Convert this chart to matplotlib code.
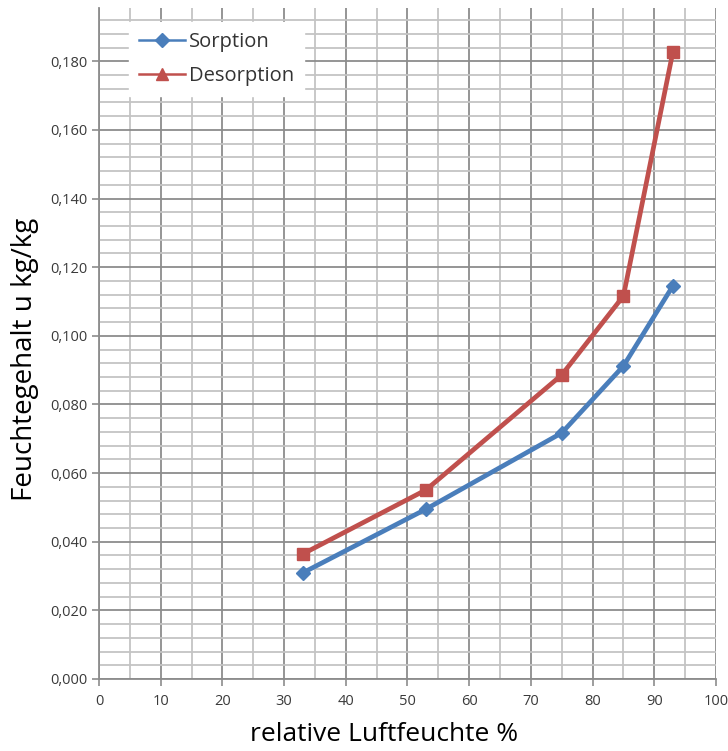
import matplotlib
matplotlib.use("Agg")
from matplotlib import pyplot as plt
from matplotlib.lines import Line2D
from matplotlib.ticker import MultipleLocator, FuncFormatter

# relative humidity (%) and moisture content (kg/kg)
humidity = [33, 53, 75, 85, 93]
sorption = [0.0309, 0.0495, 0.0717, 0.0912, 0.1145]
desorption = [0.0364, 0.0551, 0.0886, 0.1116, 0.1826]

BLUE = "#4a7ebb"
RED = "#c0504d"

plt.rcParams["font.family"] = ["Open Sans", "DejaVu Sans"]

fig = plt.figure(figsize=(7.28, 7.51), dpi=100)
ax = fig.add_axes([0.136, 0.0959, 0.8475, 0.8934])

ax.plot(humidity, sorption, color=BLUE, lw=3.4, marker="D", ms=7,
        markerfacecolor=BLUE, markeredgecolor=BLUE, zorder=3)
ax.plot(humidity, desorption, color=RED, lw=3.4, marker="s", ms=9,
        markerfacecolor=RED, markeredgecolor=RED, zorder=3)

ax.set_xlim(0, 100)
ax.set_ylim(0, 0.1955)
ax.xaxis.set_major_locator(MultipleLocator(10))
ax.xaxis.set_minor_locator(MultipleLocator(5))
ax.yaxis.set_major_locator(MultipleLocator(0.02))
ax.yaxis.set_minor_locator(MultipleLocator(0.004))
ax.yaxis.set_major_formatter(FuncFormatter(lambda v, p: f"{v:.3f}".replace(".", ",")))

ax.grid(which="major", color="#8c8c8c", lw=1.3)
ax.grid(which="minor", color="#c4c4c4", lw=1.3)
ax.set_axisbelow(True)

for side in ["top", "right"]:
    ax.spines[side].set_visible(False)
for side in ["left", "bottom"]:
    ax.spines[side].set_color("#8c8c8c")
    ax.spines[side].set_linewidth(1.3)

ax.tick_params(which="major", length=5, width=1.2, color="#8c8c8c",
               labelsize=10.5, labelcolor="#3a3a3a")
ax.tick_params(axis="x", which="major", pad=6)
ax.tick_params(which="minor", length=0)

ax.set_xlabel("relative Luftfeuchte %", fontsize=19)
ax.xaxis.set_label_coords(0.462, -0.064)
ax.set_ylabel("Feuchtegehalt u kg/kg", fontsize=20)
ax.yaxis.set_label_coords(-0.098, 0.477)

handles = [
    Line2D([], [], color=BLUE, lw=1.8, marker="D", ms=7),
    Line2D([], [], color=RED, lw=1.8, marker="^", ms=8),
]
leg = ax.legend(handles, ["Sorption", "Desorption"], loc="upper left",
                bbox_to_anchor=(0.048, 0.979), fontsize=14.5, frameon=True,
                fancybox=False, handlelength=2.3, handletextpad=0.2,
                labelspacing=0.7, borderpad=0.5, borderaxespad=0)
leg.get_frame().set_edgecolor("white")
leg.get_frame().set_alpha(1)
for t in leg.get_texts():
    t.set_color("#333333")

fig.savefig("out.png", dpi=100)
